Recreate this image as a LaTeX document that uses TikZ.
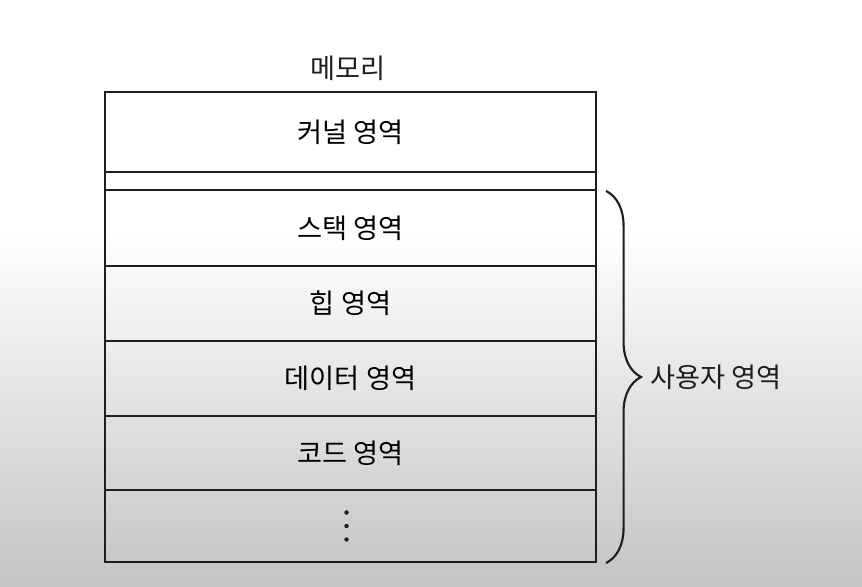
\documentclass[tikz,border=0pt]{standalone}
\usepackage{fontspec}
\setmainfont{Noto Sans CJK KR}
\usetikzlibrary{calc,positioning,decorations.pathreplacing}

\definecolor{bggray}{RGB}{196,196,196}
\definecolor{inkblack}{RGB}{30,30,30}

\tikzset{
  memrow/.style={draw=inkblack, line width=1.2pt, minimum width=9.82cm,
    inner sep=0pt, font=\fontsize{15.5pt}{18pt}\selectfont},
  memlabel/.style={font=\fontsize{15.5pt}{18pt}\selectfont, text=inkblack}
}

\begin{document}
\begin{tikzpicture}
  % background: white on top, fading to gray at the bottom
  \fill[white] (0,0) rectangle (17.24,11.72);
  \shade[top color=white, bottom color=bggray] (0,0) rectangle (17.24,7.12);
  \useasboundingbox (0,0) rectangle (17.24,11.72);

  \node[memlabel] (title) at (6.96,10.36) {메모리};

  % memory layout, top to bottom
  \node[memrow, minimum height=1.60cm] (kernel) at (7.01,9.08) {커널 영역};
  \node[memrow, minimum height=0.36cm] (gap)    at (7.01,8.10) {};
  \node[memrow, minimum height=1.52cm] (stack)  at (7.01,7.16) {스택 영역};
  \node[memrow, minimum height=1.50cm] (heap)   at (7.01,5.65) {힙 영역};
  \node[memrow, minimum height=1.50cm] (data)   at (7.01,4.15) {데이터 영역};
  \node[memrow, minimum height=1.48cm] (code)   at (7.01,2.66) {코드 영역};
  \node[memrow, minimum height=1.44cm] (rest)   at (7.01,1.20) {};
  \foreach \dy in {0.27,0,-0.27}
    \fill[inkblack] ($(rest.center)+(-0.08,\dy)$) circle (0.045);

  % user space brace
  \coordinate (bracetop) at ($(stack.north east)+(0.18,-0.04)$);
  \coordinate (bracebot) at ($(rest.south east)+(0.18,0)$);
  \draw[inkblack, line width=1.2pt, decorate,
        decoration={brace, amplitude=0.7cm}] (bracetop) -- (bracebot);
  \coordinate (tip) at ($(bracetop)!0.5!(bracebot)+(0.7,0)$);
  \node[memlabel, right=0.06cm of tip] (user) {사용자 영역};
\end{tikzpicture}
\end{document}
